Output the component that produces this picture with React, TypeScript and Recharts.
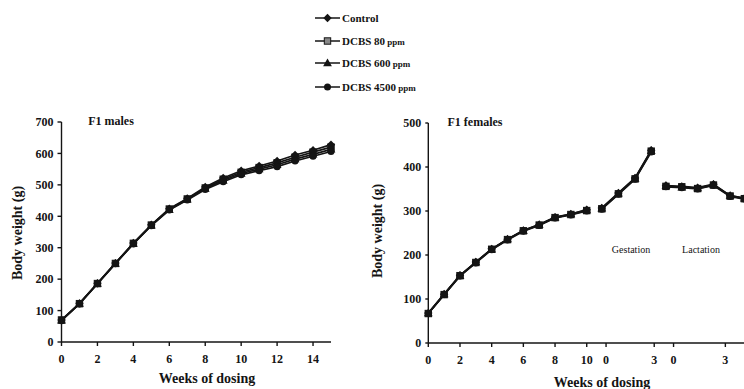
import React from 'react'
import { LineChart, Line, XAxis, YAxis } from 'recharts'

// F1 males, weeks 0-15
const MALE_WEEKS = [0, 1, 2, 3, 4, 5, 6, 7, 8, 9, 10, 11, 12, 13, 14, 15]
const MALE_CONTROL = [70, 123, 187, 251, 315, 373, 424, 457, 493, 522, 545, 560, 576, 595, 610, 628]
const MALE_80 = [70, 122, 186, 250, 314, 372, 423, 455, 490, 518, 540, 555, 570, 588, 604, 620]
const MALE_600 = [69, 122, 186, 250, 313, 371, 421, 454, 488, 514, 536, 550, 564, 582, 597, 613]
const MALE_4500 = [68, 121, 185, 249, 312, 370, 420, 452, 485, 510, 532, 545, 558, 576, 591, 606]

// F1 females: pre-mating weeks 0-10, then gestation and lactation on the same axis
const PREMATING_POS = [0, 1, 2, 3, 4, 5, 6, 7, 8, 9, 10]
const GESTATION_POS = [10.95, 12, 13.05, 14.07]
const LACTATION_POS = [15, 16, 17, 18, 19.05, 19.95]

const FEMALE_CONTROL = {
  pre: [68, 111, 154, 184, 214, 236, 256, 269, 286, 293, 303],
  gest: [307, 341, 375, 438],
  lact: [358, 356, 353, 361, 335, 329],
}
const FEMALE_80 = {
  pre: [67, 110, 153, 183, 213, 235, 255, 268, 285, 292, 301],
  gest: [305, 339, 373, 436],
  lact: [356, 355, 351, 359, 334, 328],
}
const FEMALE_600 = {
  pre: [68, 111, 153, 184, 213, 236, 255, 269, 285, 293, 302],
  gest: [306, 340, 374, 437],
  lact: [357, 354, 352, 360, 335, 329],
}
const FEMALE_4500 = {
  pre: [67, 110, 152, 182, 212, 234, 254, 267, 284, 291, 300],
  gest: [304, 338, 372, 434],
  lact: [355, 353, 350, 358, 333, 327],
}

const MALE_TICKS_X = [0, 2, 4, 6, 8, 10, 12, 14]
const MALE_TICKS_Y = [0, 100, 200, 300, 400, 500, 600, 700]
const FEMALE_TICKS_X = [0, 2, 4, 6, 8, 10, 11.22, 14.26, 15.48, 18.75]
const FEMALE_TICK_LABELS = ['0', '2', '4', '6', '8', '10', '0', '3', '0', '3']
const FEMALE_TICKS_Y = [0, 100, 200, 300, 400, 500]

const SERIES = [
  { key: 'control', name: 'Control', shape: 'diamond' },
  { key: 'd80', name: 'DCBS 80', shape: 'square' },
  { key: 'd600', name: 'DCBS 600', shape: 'triangle' },
  { key: 'd4500', name: 'DCBS 4500', shape: 'circle' },
]

const maleData = MALE_WEEKS.map((w, i) => ({
  x: w,
  control: MALE_CONTROL[i],
  d80: MALE_80[i],
  d600: MALE_600[i],
  d4500: MALE_4500[i],
}))

const femaleSets: any = { control: FEMALE_CONTROL, d80: FEMALE_80, d600: FEMALE_600, d4500: FEMALE_4500 }
const phaseRows = (pos: number[], phase: string) =>
  pos.map((x, i) => {
    const row: any = { x }
    for (const s of SERIES) row[s.key] = femaleSets[s.key][phase][i]
    return row
  })
const gapRow = (x: number) => ({ x, control: null, d80: null, d600: null, d4500: null })
const femaleData = [
  ...phaseRows(PREMATING_POS, 'pre'),
  gapRow(10.5),
  ...phaseRows(GESTATION_POS, 'gest'),
  gapRow(14.5),
  ...phaseRows(LACTATION_POS, 'lact'),
]

const INK = '#141414'
const FONT = '"Liberation Serif", "Times New Roman", serif'

function Marker({ shape, cx, cy, fill = INK }: any) {
  if (shape === 'diamond')
    return <path d={`M${cx},${cy - 4.2}L${cx + 4.2},${cy}L${cx},${cy + 4.2}L${cx - 4.2},${cy}Z`} fill={fill} />
  if (shape === 'square') return <rect x={cx - 3.2} y={cy - 3.2} width={6.4} height={6.4} fill={fill} stroke={INK} />
  if (shape === 'triangle')
    return <path d={`M${cx},${cy - 4.4}L${cx + 4.4},${cy + 3.2}L${cx - 4.4},${cy + 3.2}Z`} fill={fill} />
  return <circle cx={cx} cy={cy} r={3.5} fill={fill} />
}

const makeDot = (shape: string) => (props: any) => {
  const { cx, cy, index, value } = props
  if (cx == null || cy == null || value == null) return <g key={`e-${shape}-${index}`} />
  return (
    <g key={`${shape}-${index}`}>
      <Marker shape={shape} cx={cx} cy={cy} />
    </g>
  )
}

const tickStyle = { fontFamily: FONT, fontWeight: 700, fontSize: 12, fill: INK }
const axisStroke = { stroke: INK, strokeWidth: 1.4 }

function Txt({ x, y, size, bold = true, rotate = false, children }: any) {
  return (
    <div
      style={{
        position: 'absolute',
        left: x,
        top: y,
        transform: `translate(-50%, -50%)${rotate ? ' rotate(-90deg)' : ''}`,
        fontFamily: FONT,
        fontWeight: bold ? 700 : 400,
        fontSize: size,
        lineHeight: 1,
        whiteSpace: 'nowrap',
        color: INK,
      }}
    >
      {children}
    </div>
  )
}

function LegendBlock() {
  const rows = [18, 41, 63, 87]
  return (
    <>
      {SERIES.map((s, i) => (
        <div
          key={s.key}
          style={{ position: 'absolute', left: 314, top: rows[i] - 6, height: 12, display: 'flex', alignItems: 'center' }}
        >
          <svg width={27} height={12}>
            <line x1={1} y1={6} x2={26} y2={6} stroke={INK} strokeWidth={1.5} />
            <Marker shape={s.shape} cx={13.5} cy={6} fill={s.shape === 'square' ? '#888' : INK} />
          </svg>
          <span style={{ fontFamily: FONT, fontWeight: 700, fontSize: 11, color: INK, marginLeft: 1 }}>
            {s.name}
            {s.key !== 'control' && <span style={{ fontWeight: 700, fontSize: 9 }}> ppm</span>}
          </span>
        </div>
      ))}
    </>
  )
}

export default function App() {
  return (
    <div style={{ position: 'absolute', left: 0, top: 0, width: 744, height: 389, overflow: 'hidden', background: '#fff' }}>
      <div style={{ position: 'absolute', left: 0, top: 0 }}>
        <LineChart width={350} height={389} data={maleData} margin={{ top: 122, right: 19, bottom: 17, left: 21.5 }}>
          <XAxis
            dataKey="x"
            type="number"
            domain={[0, 15]}
            ticks={MALE_TICKS_X}
            interval={0}
            tick={tickStyle}
            tickSize={4}
            tickMargin={8}
            axisLine={axisStroke}
            tickLine={axisStroke}
            height={30}
          />
          <YAxis
            type="number"
            domain={[0, 700]}
            ticks={MALE_TICKS_Y}
            interval={0}
            tick={tickStyle}
            tickSize={4}
            tickMargin={4}
            axisLine={axisStroke}
            tickLine={axisStroke}
            width={40}
          />
          {SERIES.map((s) => (
            <Line
              key={s.key}
              dataKey={s.key}
              stroke={INK}
              strokeWidth={1.7}
              dot={makeDot(s.shape)}
              activeDot={false}
              isAnimationActive={false}
            />
          ))}
        </LineChart>
      </div>

      <div style={{ position: 'absolute', left: 370, top: 0 }}>
        <LineChart width={391} height={389} data={femaleData} margin={{ top: 123, right: 0, bottom: 16, left: 18.3 }}>
          <XAxis
            dataKey="x"
            type="number"
            domain={[0, 21]}
            ticks={FEMALE_TICKS_X}
            tickFormatter={(v: number) => FEMALE_TICK_LABELS[FEMALE_TICKS_X.indexOf(v)] ?? ''}
            interval={0}
            tick={tickStyle}
            tickSize={4}
            tickMargin={8}
            axisLine={axisStroke}
            tickLine={axisStroke}
            height={30}
          />
          <YAxis
            type="number"
            domain={[0, 500]}
            ticks={FEMALE_TICKS_Y}
            interval={0}
            tick={tickStyle}
            tickSize={3}
            tickMargin={4}
            axisLine={axisStroke}
            tickLine={axisStroke}
            width={40}
          />
          {SERIES.map((s) => (
            <Line
              key={s.key}
              dataKey={s.key}
              stroke={INK}
              strokeWidth={1.7}
              connectNulls={false}
              dot={makeDot(s.shape)}
              activeDot={false}
              isAnimationActive={false}
            />
          ))}
        </LineChart>
      </div>

      <LegendBlock />

      <Txt x={111} y={121} size={12}>F1 males</Txt>
      <Txt x={475} y={122} size={12}>F1 females</Txt>
      <Txt x={17.5} y={233} size={14} rotate>Body weight (g)</Txt>
      <Txt x={378} y={231} size={14} rotate>Body weight (g)</Txt>
      <Txt x={207} y={379} size={14}>Weeks of dosing</Txt>
      <Txt x={602} y={383} size={14}>Weeks of dosing</Txt>
      <Txt x={631} y={250} size={10} bold={false}>Gestation</Txt>
      <Txt x={701} y={250} size={10} bold={false}>Lactation</Txt>
    </div>
  )
}
